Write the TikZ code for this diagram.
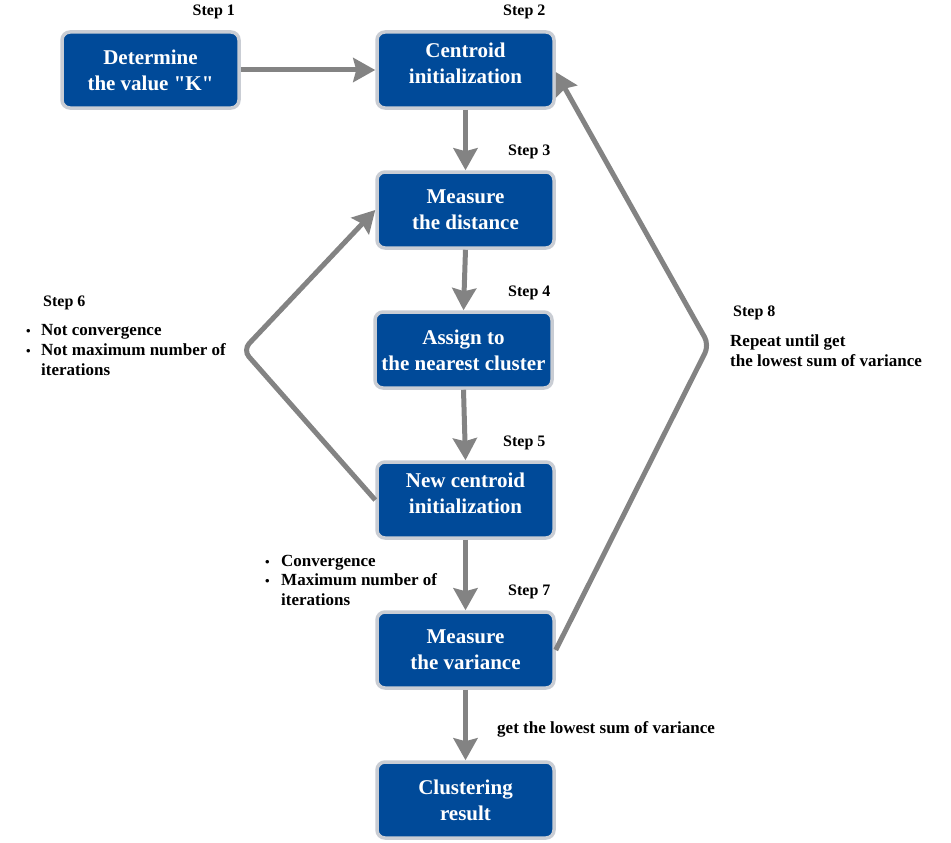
\documentclass[tikz,border=0pt]{standalone}
\usepackage{fontspec}
\setmainfont{Liberation Serif}
\usetikzlibrary{arrows.meta}
\definecolor{boxblue}{HTML}{004A99}
\definecolor{boxedge}{HTML}{C9CDD4}
\definecolor{arrgray}{HTML}{838383}
\newcommand{\straightquote}{\XeTeXglyph\XeTeXcharglyph"22\relax}
\tikzset{
  stepbox/.style={draw=boxedge, fill=boxblue, line width=3.5pt, rounded corners=8pt,
    minimum width=177pt, minimum height=76pt, inner sep=0pt, align=center, text=white,
    font=\bfseries\fontsize{21}{26}\selectfont},
  arr/.style={draw=arrgray, line width=5pt, -{Stealth[length=22pt,width=24pt,inset=3pt]}},
  steplbl/.style={anchor=base west, inner sep=0pt, font=\bfseries\fontsize{16}{20}\selectfont},
  lbl/.style={anchor=base west, inner sep=0pt, font=\bfseries\fontsize{17}{20}\selectfont},
  bul/.style={anchor=base west, inner sep=0pt, font=\bfseries\fontsize{13}{20}\selectfont}
}
\begin{document}
\begin{tikzpicture}[x=1pt,y=-1pt]
\useasboundingbox (0,0) rectangle (951,843);
\node[stepbox] (b1) at (150.5,70) {Determine\\the value \straightquote K\straightquote};
\node[stepbox] (b2) at (465.5,70) {Centroid\\initialization\\[-13pt]\mbox{}};
\node[stepbox] (b3) at (465.5,210) {Measure\\the distance};
\node[stepbox] (b4) at (463.5,350) {Assign to\\the nearest cluster};
\node[stepbox] (b5) at (465.5,500) {New centroid\\initialization\\[-13pt]\mbox{}};
\node[stepbox] (b6) at (465.5,650) {Measure\\the variance};
\node[stepbox] (b7) at (465.5,800) {Clustering\\result};

\draw[arr] (b1.east) -- (b2.west);
\draw[arr] (b2.south) -- (b3.north);
\draw[arr] (b3.south) -- (b4.north);
\draw[arr] (b4.south) -- (b5.north);
\draw[arr] (b5.south) -- (b6.north);
\draw[arr] (b6.south) -- (b7.north);
\coordinate (lc) at (243,350);
\coordinate (rc) at (709,345);
\draw[arr, rounded corners=9pt] (b5.west) -- (lc) -- (b3.west);
\draw[arr, rounded corners=9pt] (b6.east) -- (rc) -- ([yshift=-2pt]b2.east);

\node[steplbl] (s1) at (192.5,16) {Step 1};
\node[steplbl] (s2) at (503,16) {Step 2};
\node[steplbl] (s3) at (508,155) {Step 3};
\node[steplbl] (s4) at (508,296) {Step 4};
\node[steplbl] (s5) at (503,446) {Step 5};
\node[steplbl] (s6) at (43,306) {Step 6};
\node[steplbl] (s7) at (508,595) {Step 7};
\node[steplbl] (s8) at (733,316) {Step 8};

\node[bul] (d1) at (26,335) {•};
\node[lbl] (t1) at (41,335) {Not convergence};
\node[bul] (d2) at (26,355) {•};
\node[lbl] (t2) at (41,355) {Not maximum number of};
\node[lbl] (t3) at (41,375) {iterations};

\node[bul] (d3) at (265,566) {•};
\node[lbl] (u1) at (281,566) {Convergence};
\node[bul] (d4) at (265,585.5) {•};
\node[lbl] (u2) at (281,585.5) {Maximum number of};
\node[lbl] (u3) at (281,605) {iterations};

\node[lbl] (r1) at (730,346) {Repeat until get};
\node[lbl] (r2) at (730,366) {the lowest sum of variance};
\node[lbl] (g1) at (497,733) {get the lowest sum of variance};
\end{tikzpicture}
\end{document}
